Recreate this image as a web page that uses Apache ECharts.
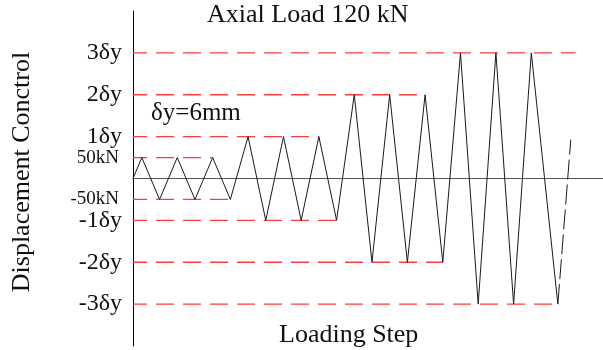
<!DOCTYPE html>
<html>
<head>
<meta charset="utf-8">
<script src="https://cdn.jsdelivr.net/npm/echarts@6/dist/echarts.min.js"></script>
<style>
html,body{margin:0;padding:0;background:#fff;}
#chart{width:603px;height:350px;}
</style>
</head>
<body>
<div id="chart"></div>
<script>
// Loading history: step (x) and displacement level in units of δy (load-control cycles at ±0.5)
const stepX = [0, 0.5, 1.5, 2.5, 3.5, 4.5, 5.5, 6.5, 7.5, 8.5, 9.5, 10.5, 11.5, 12.5, 13.5, 14.5, 15.5, 16.5, 17.5, 18.5, 19.5, 20.5, 21.5, 22.5, 24];
const displacement = [0, 0.5, -0.5, 0.5, -0.5, 0.5, -0.5, 1, -1, 1, -1, 1, -1, 2, -2, 2, -2, 2, -2, 3, -3, 3, -3, 3, -3];
// Dashed continuation after the last cycle
const tailX = [24, 24.73];
const tailY = [-3, 0.93];
// Reference levels and where each red dashed line ends
const levelValues = [3, 2, 1, 0.5, -0.5, -1, -2, -3];
const levelEnds = [25, 16.5, 10.5, 4.5, 5.5, 11.5, 17.5, 24];
const tickLabels = ['3δy', '2δy', '1δy', '50kN', '-50kN', '-1δy', '-2δy', '-3δy'];
const smallLabels = ['50kN', '-50kN'];

const FONT = 'Liberation Serif';
const chart = echarts.init(document.getElementById('chart'), null, {renderer: 'canvas'});

const mainData = stepX.map((x, i) => [x, displacement[i]]);
const tailData = tailX.map((x, i) => [x, tailY[i]]);

const levelSeries = levelValues.map((v, i) => ({
  type: 'line', name: 'level' + i, symbol: 'none', z: 2, silent: true,
  data: [[0, v], [levelEnds[i], v]],
  itemStyle: {color: '#ff3c3c'},
  lineStyle: {color: '#ff3c3c', width: 1.3, type: [18, 9], dashOffset: 4}
}));

chart.setOption({
  animation: false,
  backgroundColor: '#ffffff',
  title: [
    {text: 'Axial Load 120 kN', left: 207, top: 2, padding: 0,
     textStyle: {fontFamily: FONT, fontSize: 26, fontWeight: 'normal', color: '#111'}},
    {text: 'Loading Step', left: 279, top: 322, padding: 0,
     textStyle: {fontFamily: FONT, fontSize: 26, fontWeight: 'normal', color: '#111'}},
    {text: 'δy=6mm', left: 151, top: 101, padding: 0,
     textStyle: {fontFamily: FONT, fontSize: 25, fontWeight: 'normal', color: '#111'}}
  ],
  grid: {left: 133, right: 0, top: 11, bottom: 4, containLabel: false},
  xAxis: {
    type: 'value', min: 0, max: 26.55,
    axisLine: {show: true, onZero: true, lineStyle: {color: '#555', width: 1}},
    axisTick: {show: false}, axisLabel: {show: false}, splitLine: {show: false}
  },
  yAxis: {
    type: 'value', min: -4, max: 4, interval: 0.5,
    name: 'Displacement Conctrol', nameLocation: 'middle', nameRotate: 90, nameGap: 98,
    nameTextStyle: {fontFamily: FONT, fontSize: 26, color: '#111', padding: [0, 0, 0, 13]},
    axisLine: {show: true, onZero: false, lineStyle: {color: '#000', width: 1}},
    axisTick: {show: false},
    splitLine: {show: false},
    axisLabel: {
      margin: 11,
      fontFamily: FONT, fontSize: 24, color: '#111',
      formatter: function (v) {
        const idx = levelValues.findIndex(l => Math.abs(l - v) < 1e-6);
        if (idx < 0) return '';
        const t = tickLabels[idx];
        return smallLabels.indexOf(t) >= 0 ? '{s|' + t + '}' : t;
      },
      rich: {s: {fontFamily: FONT, fontSize: 19, color: '#111', padding: [0, 3, 0, 0]}}
    }
  },
  series: levelSeries.concat([
    {
      type: 'line', name: 'history', data: mainData, symbol: 'none', z: 3,
      itemStyle: {color: '#1a1a1a'},
      lineStyle: {color: '#1a1a1a', width: 1}
    },
    {
      type: 'line', name: 'tail', data: tailData, symbol: 'none', z: 3,
      itemStyle: {color: '#1a1a1a'},
      lineStyle: {color: '#1a1a1a', width: 1, type: [20, 5]}
    }
  ])
});
</script>
</body>
</html>
